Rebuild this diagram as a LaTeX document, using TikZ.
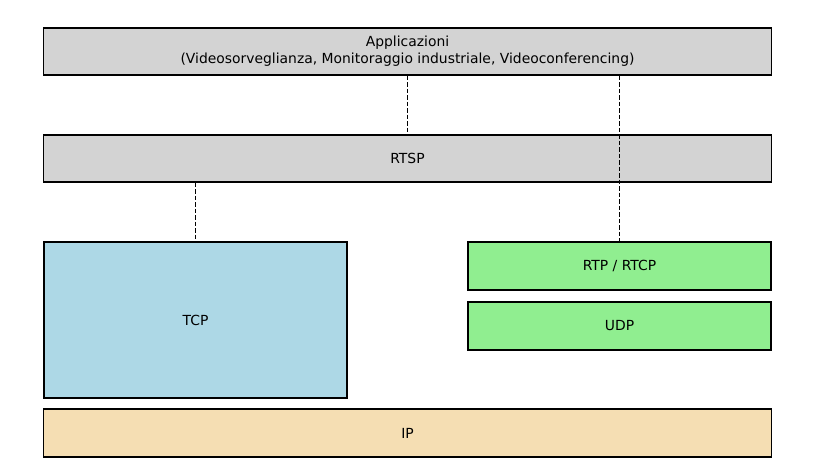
\documentclass[tikz,border=0pt]{standalone}
\usepackage{fontspec}
\setmainfont{DejaVu Sans}
\usepackage{xcolor}
\definecolor{boxgray}{HTML}{D3D3D3}
\definecolor{boxblue}{HTML}{ADD8E6}
\definecolor{boxgreen}{HTML}{90EE90}
\definecolor{boxwheat}{HTML}{F5DEB3}

\begin{document}
\begin{tikzpicture}[
        x=1pt, y=-1pt,
        layer/.style={draw, line width=1.15pt, inner sep=0pt, align=center,
            font=\fontsize{13.9}{16.7}\selectfont},
        link/.style={line width=1.2pt, dash pattern=on 4.5pt off 2pt}
    ]
    \useasboundingbox (0,0) rectangle (838,463);
    \node[layer, fill=boxgray, minimum width=728pt, minimum height=47pt] (app) at (407.5,51.5) {Applicazioni\\(Videosorveglianza, Monitoraggio industriale, Videoconferencing)};
    \node[layer, fill=boxgray, minimum width=728pt, minimum height=47pt] (rtsp) at (407.5,158.5) {RTSP};
    \node[layer, fill=boxblue, minimum width=303pt, minimum height=156pt] (tcp) at (195.5,320) {TCP};
    \node[layer, fill=boxgreen, minimum width=303pt, minimum height=48pt] (rtp) at (619.5,266) {RTP / RTCP};
    \node[layer, fill=boxgreen, minimum width=303pt, minimum height=48pt] (udp) at (619.5,326) {UDP};
    \node[layer, fill=boxwheat, minimum width=728pt, minimum height=48pt] (ip) at (407.5,433) {IP};
    \draw[link] (app) -- (rtsp);
    \draw[link] (tcp.north |- rtsp.south) -- (tcp.north);
    \draw[link] (rtp.north |- app.south) -- (rtp.north);
\end{tikzpicture}
\end{document}
